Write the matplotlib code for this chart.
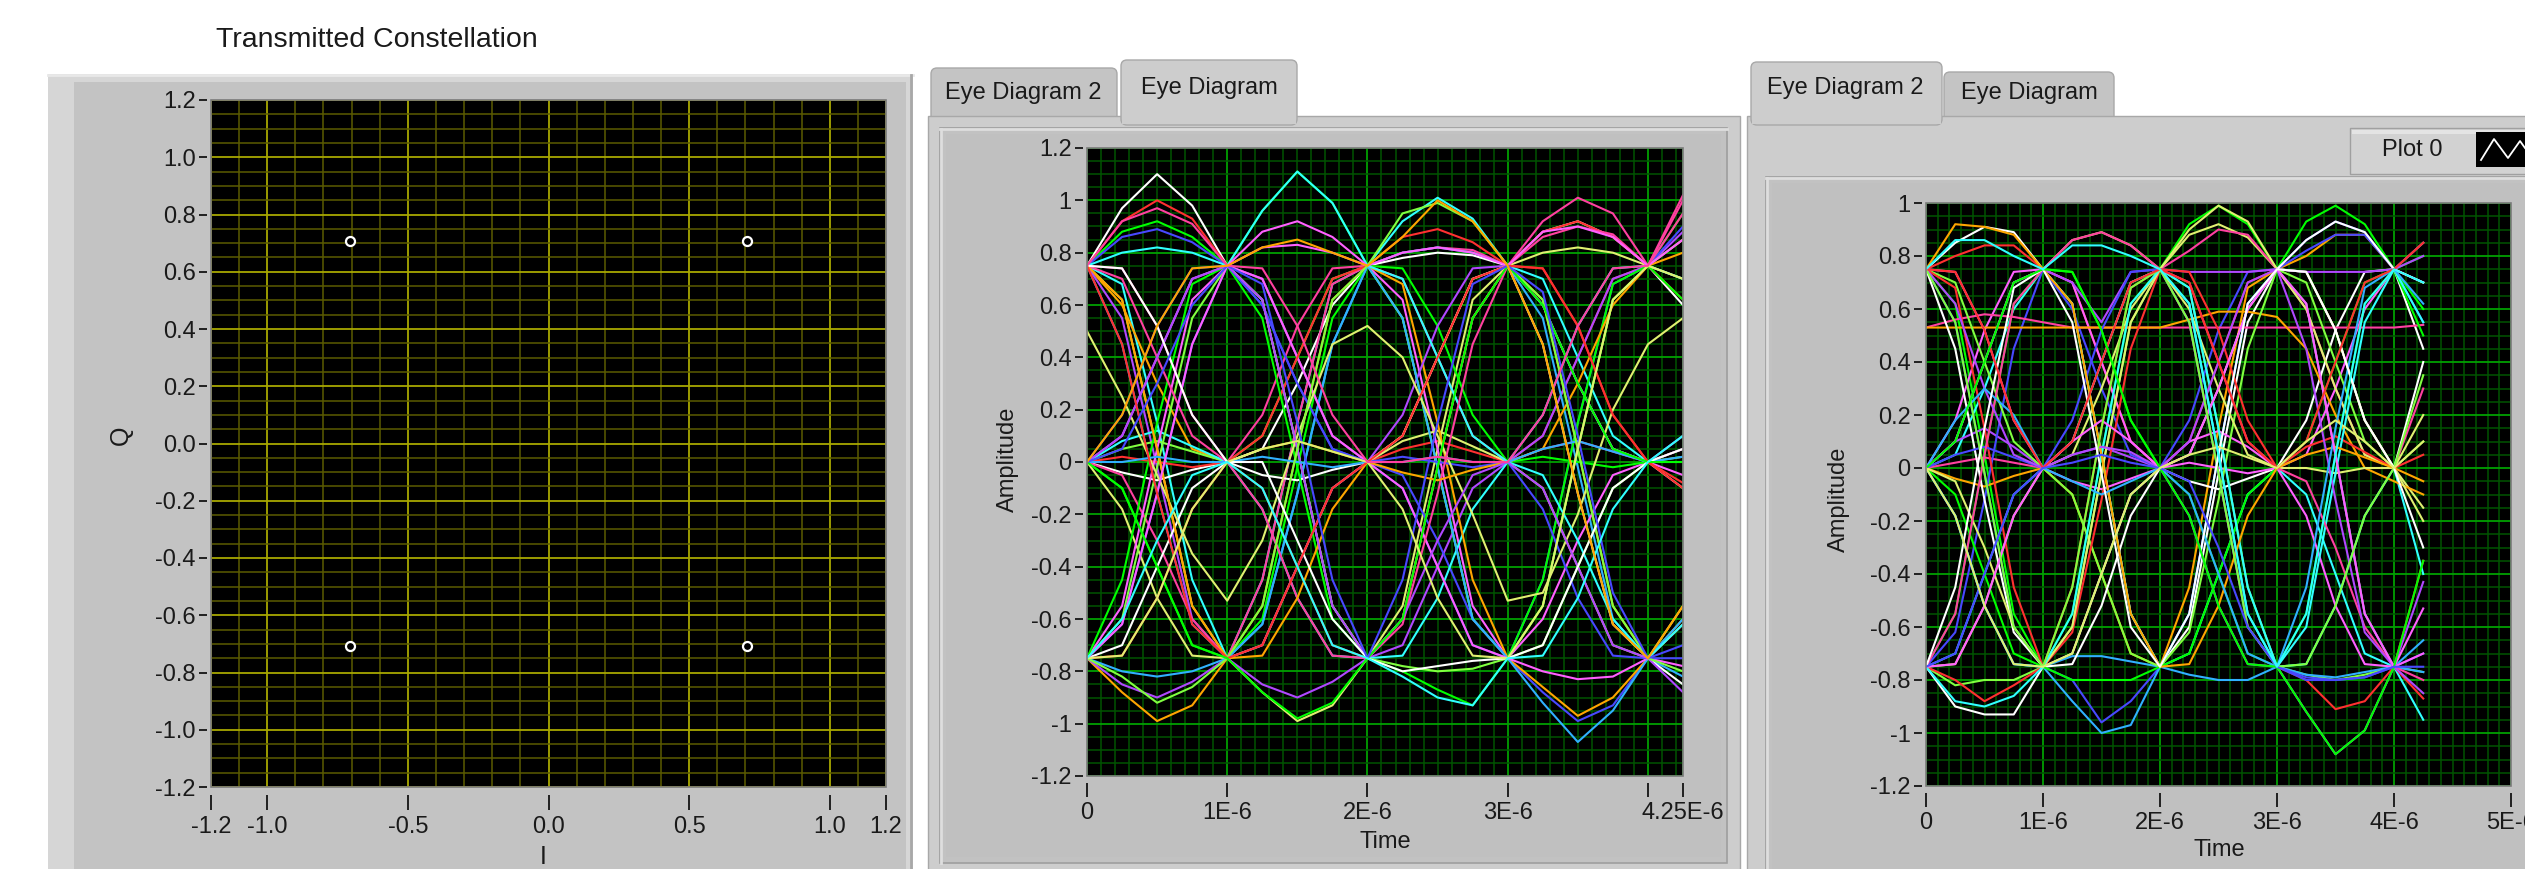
import matplotlib
matplotlib.use('Agg')
import matplotlib.pyplot as plt
from matplotlib.patches import Rectangle, FancyBboxPatch
from matplotlib.lines import Line2D
from matplotlib.ticker import FixedLocator, FuncFormatter
from matplotlib.transforms import IdentityTransform

plt.rcParams['font.family'] = ['Liberation Sans', 'DejaVu Sans']

# ---------------- data ----------------
const_I = [-0.707, 0.707, -0.707, 0.707]
const_Q = [0.707, 0.707, -0.707, -0.707]

time_us = [0.0, 0.25, 0.5, 0.75, 1.0, 1.25, 1.5, 1.75, 2.0, 2.25, 2.5, 2.75,
           3.0, 3.25, 3.5, 3.75, 4.0, 4.25]

eye1_traces = [
    [0.75, 0.97, 1.10, 0.98, 0.75, 0.62, 0.05, -0.55, -0.75, -0.60, -0.02, 0.55, 0.75, 0.88, 0.92, 0.86, 0.75, 0.60],
    [0.75, 0.92, 1.00, 0.93, 0.75, 0.70, 0.40, 0.10, 0.0, 0.05, 0.08, 0.04, 0.0, 0.10, 0.40, 0.70, 0.75, 0.85],
    [0.75, 0.88, 0.92, 0.86, 0.75, 0.96, 1.11, 0.99, 0.75, 0.55, -0.02, -0.60, -0.75, -0.55, 0.05, 0.62, 0.75, 0.95],
    [0.75, 0.86, 0.89, 0.84, 0.75, 0.60, 0.30, 0.05, 0.0, -0.10, -0.40, -0.70, -0.75, -0.88, -0.99, -0.93, -0.75, -0.62],
    [0.75, 0.62, 0.05, -0.55, -0.75, -0.88, -0.99, -0.93, -0.75, -0.55, 0.05, 0.62, 0.75, 0.80, 0.82, 0.80, 0.75, 0.70],
    [0.75, 0.68, 0.15, -0.45, -0.75, -0.45, 0.15, 0.68, 0.75, 0.92, 1.01, 0.93, 0.75, 0.70, 0.40, 0.10, 0.0, 0.05],
    [0.75, 0.74, 0.52, 0.18, 0.0, 0.18, 0.52, 0.74, 0.75, 0.80, 0.82, 0.81, 0.75, 0.92, 1.01, 0.95, 0.75, 1.02],
    [0.75, 0.60, 0.30, 0.05, 0.0, 0.05, 0.08, 0.04, 0.0, 0.10, 0.40, 0.70, 0.75, 0.62, 0.05, -0.55, -0.75, -0.62],
    [0.75, 0.55, -0.02, -0.60, -0.75, -0.85, -0.90, -0.84, -0.75, -0.70, -0.40, -0.10, 0.0, 0.10, 0.40, 0.70, 0.75, 0.88],
    [0.75, 0.45, -0.12, -0.62, -0.75, -0.62, -0.12, 0.45, 0.75, 0.80, 0.82, 0.80, 0.75, 0.55, -0.02, -0.60, -0.75, -0.82],
    [0.0, 0.10, 0.40, 0.70, 0.75, 0.82, 0.83, 0.80, 0.75, 0.62, 0.05, -0.55, -0.75, -0.60, -0.30, -0.05, 0.0, -0.05],
    [0.0, 0.05, 0.08, 0.04, 0.0, 0.10, 0.40, 0.70, 0.75, 0.55, -0.02, -0.60, -0.75, -0.70, -0.40, -0.10, 0.0, 0.02],
    [0.0, -0.04, -0.07, -0.03, 0.0, 0.05, 0.30, 0.60, 0.75, 0.78, 0.80, 0.79, 0.75, 0.60, 0.30, 0.05, 0.0, -0.10],
    [0.0, 0.02, 0.0, -0.02, 0.0, -0.10, -0.40, -0.70, -0.75, -0.60, -0.02, 0.55, 0.75, 0.88, 0.92, 0.86, 0.75, 0.62],
    [0.0, -0.10, -0.40, -0.70, -0.75, -0.60, -0.02, 0.55, 0.75, 0.74, 0.52, 0.18, 0.0, 0.02, 0.0, -0.02, 0.0, 0.0],
    [0.0, 0.18, 0.52, 0.74, 0.75, 0.70, 0.40, 0.10, 0.0, -0.05, -0.30, -0.60, -0.75, -0.45, 0.15, 0.68, 0.75, 0.90],
    [0.0, -0.18, -0.52, -0.74, -0.75, -0.70, -0.40, -0.10, 0.0, 0.08, 0.12, 0.06, 0.0, -0.10, -0.40, -0.70, -0.75, -0.55],
    [0.0, 0.08, 0.12, 0.06, 0.0, -0.18, -0.52, -0.74, -0.75, -0.74, -0.52, -0.18, 0.0, 0.18, 0.52, 0.74, 0.75, 0.70],
    [0.0, -0.05, -0.30, -0.60, -0.75, -0.45, 0.15, 0.68, 0.75, 0.70, 0.40, 0.10, 0.0, 0.05, 0.08, 0.04, 0.0, 0.05],
    [-0.75, -0.88, -0.99, -0.93, -0.75, -0.55, 0.05, 0.62, 0.75, 0.68, 0.15, -0.45, -0.75, -0.86, -0.97, -0.90, -0.75, -0.60],
    [-0.75, -0.85, -0.90, -0.84, -0.75, -0.70, -0.40, -0.10, 0.0, 0.18, 0.52, 0.74, 0.75, 0.60, 0.30, 0.05, 0.0, 0.10],
    [-0.75, -0.80, -0.82, -0.80, -0.75, -0.62, -0.12, 0.45, 0.75, 0.55, -0.02, -0.60, -0.75, -0.92, -1.07, -0.95, -0.75, -0.60],
    [-0.75, -0.55, 0.05, 0.62, 0.75, 0.70, 0.40, 0.10, 0.0, -0.10, -0.40, -0.70, -0.75, -0.80, -0.83, -0.82, -0.75, -0.78],
    [-0.75, -0.60, -0.02, 0.55, 0.75, 0.62, 0.05, -0.55, -0.75, -0.78, -0.80, -0.79, -0.75, -0.55, 0.05, 0.62, 0.75, 0.85],
    [-0.75, -0.70, -0.40, -0.10, 0.0, -0.05, -0.07, -0.03, 0.0, 0.10, 0.40, 0.70, 0.75, 0.45, -0.12, -0.62, -0.75, -0.85],
    [-0.75, -0.74, -0.52, -0.18, 0.0, 0.10, 0.40, 0.70, 0.75, 0.86, 0.89, 0.84, 0.75, 0.74, 0.52, 0.18, 0.0, -0.08],
    [-0.75, -0.45, 0.15, 0.68, 0.75, 0.55, -0.02, -0.60, -0.75, -0.80, -0.87, -0.93, -0.75, -0.45, 0.15, 0.68, 0.75, 0.62],
    [-0.75, -0.62, -0.12, 0.45, 0.75, 0.60, 0.30, 0.05, 0.0, 0.02, 0.0, -0.02, 0.0, -0.18, -0.52, -0.74, -0.75, -0.75],
    [0.50, 0.25, -0.05, -0.35, -0.53, -0.30, 0.10, 0.45, 0.52, 0.40, 0.10, -0.20, -0.53, -0.50, -0.20, 0.20, 0.45, 0.55],
    [0.75, 0.80, 0.82, 0.80, 0.75, 0.96, 1.11, 0.99, 0.75, 0.70, 0.40, 0.10, 0.0, -0.05, -0.30, -0.60, -0.75, -0.62],
    [0.75, 0.70, 0.40, 0.10, 0.0, -0.18, -0.52, -0.74, -0.75, -0.62, -0.12, 0.45, 0.75, 0.86, 0.90, 0.87, 0.75, 0.95],
    [0.75, 0.62, 0.05, -0.55, -0.75, -0.74, -0.52, -0.18, 0.0, -0.04, -0.07, -0.03, 0.0, 0.05, 0.30, 0.60, 0.75, 0.80],
    [0.0, 0.10, 0.40, 0.70, 0.75, 0.62, 0.05, -0.55, -0.75, -0.60, -0.30, -0.05, 0.0, -0.10, -0.40, -0.70, -0.75, -0.88],
    [0.0, 0.0, 0.02, 0.0, 0.0, 0.02, 0.0, -0.02, 0.0, 0.0, 0.02, 0.0, 0.0, 0.05, 0.08, 0.04, 0.0, 0.02],
    [-0.75, -0.62, -0.12, 0.45, 0.75, 0.88, 0.92, 0.86, 0.75, 0.80, 0.82, 0.80, 0.75, 0.88, 0.90, 0.86, 0.75, 0.85],
    [-0.75, -0.82, -0.92, -0.86, -0.75, -0.55, 0.05, 0.62, 0.75, 0.95, 0.99, 0.92, 0.75, 0.62, 0.05, -0.55, -0.75, -0.80],
    [0.75, 0.74, 0.52, 0.18, 0.0, 0.0, -0.30, -0.60, -0.75, -0.80, -0.78, -0.76, -0.75, -0.70, -0.40, -0.10, 0.0, 0.05],
    [0.75, 0.45, -0.12, -0.62, -0.75, -0.70, -0.40, -0.10, 0.0, 0.10, 0.40, 0.70, 0.75, 0.74, 0.52, 0.18, 0.0, -0.10],
    [0.0, -0.10, -0.40, -0.70, -0.75, -0.88, -0.98, -0.92, -0.75, -0.60, -0.02, 0.55, 0.75, 0.60, 0.30, 0.05, 0.0, 0.0],
    [0.0, 0.05, 0.30, 0.60, 0.75, 0.68, 0.15, -0.45, -0.75, -0.45, 0.15, 0.68, 0.75, 0.65, 0.10, -0.50, -0.75, -0.70],
    [-0.75, -0.74, -0.52, -0.18, 0.0, 0.05, 0.08, 0.04, 0.0, -0.18, -0.52, -0.74, -0.75, -0.55, 0.05, 0.62, 0.75, 0.70],
    [-0.75, -0.60, -0.30, -0.05, 0.0, -0.10, -0.40, -0.70, -0.75, -0.82, -0.90, -0.93, -0.75, -0.74, -0.52, -0.18, 0.0, 0.10],
    [0.75, 0.92, 0.97, 0.91, 0.75, 0.74, 0.52, 0.18, 0.0, 0.0, 0.02, 0.0, 0.0, 0.18, 0.52, 0.74, 0.75, 1.0],
    [0.0, 0.18, 0.52, 0.74, 0.75, 0.82, 0.85, 0.80, 0.75, 0.86, 1.0, 0.92, 0.75, 0.45, -0.12, -0.62, -0.75, -0.55],
]

eye2_traces = [
    [0.75, 0.85, 0.91, 0.89, 0.75, 0.62, 0.05, -0.55, -0.75, -0.60, -0.02, 0.55, 0.75, 0.74, 0.52, 0.18, 0.0, 0.40],
    [0.75, 0.80, 0.84, 0.84, 0.75, 0.70, 0.40, 0.10, 0.0, 0.10, 0.40, 0.70, 0.75, 0.62, 0.05, -0.55, -0.75, -0.35],
    [0.75, 0.62, 0.05, -0.55, -0.75, -0.55, 0.05, 0.62, 0.75, 0.92, 0.99, 0.92, 0.75, 0.93, 0.99, 0.92, 0.75, 0.80],
    [0.75, 0.55, -0.02, -0.60, -0.75, -0.80, -0.96, -0.88, -0.75, -0.55, 0.05, 0.62, 0.75, 0.86, 0.93, 0.89, 0.75, 0.55],
    [0.0, 0.10, 0.40, 0.70, 0.75, 0.86, 0.89, 0.84, 0.75, 0.88, 0.92, 0.87, 0.75, 0.74, 0.52, 0.18, 0.0, -0.15],
    [0.0, 0.05, 0.30, 0.60, 0.75, 0.62, 0.05, -0.55, -0.75, -0.70, -0.40, -0.10, 0.0, -0.10, -0.40, -0.70, -0.75, -0.95],
    [0.0, 0.02, 0.04, 0.02, 0.0, 0.10, 0.40, 0.70, 0.75, 0.82, 0.90, 0.88, 0.75, 0.60, 0.30, 0.05, 0.0, 0.30],
    [0.0, -0.04, -0.07, -0.03, 0.0, -0.10, -0.40, -0.70, -0.75, -0.45, 0.15, 0.68, 0.75, 0.80, 0.88, 0.88, 0.75, 0.85],
    [0.0, 0.10, 0.15, 0.08, 0.0, 0.05, 0.08, 0.04, 0.0, -0.18, -0.52, -0.74, -0.75, -0.92, -1.08, -0.99, -0.75, -0.43],
    [0.0, -0.18, -0.52, -0.74, -0.75, -0.88, -1.00, -0.97, -0.75, -0.55, 0.05, 0.62, 0.75, 0.62, 0.05, -0.55, -0.75, -0.65],
    [0.0, 0.18, 0.52, 0.74, 0.75, 0.70, 0.40, 0.10, 0.0, 0.10, 0.14, 0.08, 0.0, 0.05, 0.30, 0.60, 0.75, 0.70],
    [-0.75, -0.82, -0.80, -0.80, -0.75, -0.60, -0.02, 0.55, 0.75, 0.68, 0.15, -0.45, -0.75, -0.78, -0.80, -0.78, -0.75, -0.77],
    [-0.75, -0.90, -0.93, -0.93, -0.75, -0.70, -0.40, -0.10, 0.0, -0.05, -0.08, -0.04, 0.0, 0.18, 0.52, 0.74, 0.75, 0.45],
    [-0.75, -0.80, -0.88, -0.82, -0.75, -0.45, 0.15, 0.68, 0.75, 0.55, -0.02, -0.60, -0.75, -0.80, -0.91, -0.88, -0.75, -0.87],
    [-0.75, -0.55, 0.05, 0.62, 0.75, 0.74, 0.52, 0.18, 0.0, -0.10, -0.40, -0.70, -0.75, -0.55, 0.05, 0.62, 0.75, 0.60],
    [-0.75, -0.62, -0.12, 0.45, 0.75, 0.60, 0.30, 0.05, 0.0, 0.18, 0.52, 0.74, 0.75, 0.82, 0.88, 0.88, 0.75, 0.85],
    [-0.75, -0.74, -0.52, -0.18, 0.0, 0.05, 0.30, 0.60, 0.75, 0.90, 0.99, 0.93, 0.75, 0.60, 0.30, 0.05, 0.0, 0.20],
    [-0.75, -0.70, -0.40, -0.10, 0.0, 0.10, 0.40, 0.70, 0.75, 0.62, 0.05, -0.55, -0.75, -0.74, -0.52, -0.18, 0.0, -0.40],
    [0.53, 0.56, 0.58, 0.57, 0.55, 0.53, 0.53, 0.53, 0.53, 0.53, 0.53, 0.53, 0.53, 0.53, 0.53, 0.53, 0.53, 0.54],
    [0.53, 0.53, 0.53, 0.53, 0.53, 0.53, 0.53, 0.53, 0.53, 0.56, 0.59, 0.59, 0.57, 0.45, 0.20, 0.0, -0.05, -0.10],
    [0.0, 0.10, 0.40, 0.70, 0.75, 0.70, 0.55, 0.74, 0.75, 0.74, 0.74, 0.74, 0.75, 0.74, 0.74, 0.74, 0.75, 0.80],
    [0.0, -0.18, -0.52, -0.74, -0.75, -0.71, -0.71, -0.73, -0.75, -0.78, -0.80, -0.80, -0.75, -0.78, -0.79, -0.77, -0.75, -0.77],
    [0.75, 0.74, 0.52, 0.18, 0.0, -0.05, -0.08, -0.04, 0.0, 0.02, 0.0, -0.02, 0.0, -0.18, -0.52, -0.74, -0.75, -0.53],
    [0.75, 0.70, 0.40, 0.10, 0.0, -0.10, -0.40, -0.70, -0.75, -0.62, -0.12, 0.45, 0.75, 0.70, 0.40, 0.10, 0.0, 0.10],
    [0.75, 0.45, -0.12, -0.62, -0.75, -0.74, -0.52, -0.18, 0.0, 0.05, 0.30, 0.60, 0.75, 0.86, 0.93, 0.89, 0.75, 0.70],
    [0.75, 0.68, 0.15, -0.45, -0.75, -0.62, -0.12, 0.45, 0.75, 0.74, 0.52, 0.18, 0.0, 0.08, 0.12, 0.06, 0.0, 0.05],
    [0.0, -0.10, -0.40, -0.70, -0.75, -0.80, -0.80, -0.80, -0.75, -0.70, -0.40, -0.10, 0.0, 0.10, 0.40, 0.70, 0.75, 0.50],
    [0.0, 0.05, 0.08, 0.04, 0.0, 0.18, 0.52, 0.74, 0.75, 0.55, -0.02, -0.60, -0.75, -0.79, -0.80, -0.79, -0.75, -0.70],
    [0.0, -0.05, -0.30, -0.60, -0.75, -0.60, -0.02, 0.55, 0.75, 0.60, 0.30, 0.05, 0.0, 0.0, -0.02, 0.0, 0.0, -0.20],
    [-0.75, -0.88, -0.90, -0.86, -0.75, -0.55, 0.05, 0.62, 0.75, 0.68, 0.15, -0.45, -0.75, -0.60, -0.02, 0.55, 0.75, 0.55],
    [-0.75, -0.55, 0.05, 0.62, 0.75, 0.86, 0.89, 0.84, 0.75, 0.70, 0.40, 0.10, 0.0, -0.05, -0.30, -0.60, -0.75, -0.80],
    [0.75, 0.92, 0.91, 0.88, 0.75, 0.62, 0.05, -0.55, -0.75, -0.74, -0.52, -0.18, 0.0, 0.05, 0.08, 0.04, 0.0, -0.05],
    [0.75, 0.62, 0.30, 0.05, 0.0, 0.05, 0.08, 0.06, 0.0, 0.10, 0.40, 0.70, 0.75, 0.45, -0.12, -0.62, -0.75, -0.85],
    [0.0, 0.18, 0.30, 0.20, 0.0, -0.05, -0.10, -0.05, 0.0, -0.10, -0.40, -0.70, -0.75, -0.45, 0.15, 0.68, 0.75, 0.62],
    [-0.75, -0.74, -0.52, -0.18, 0.0, 0.10, 0.18, 0.10, 0.0, 0.05, 0.30, 0.60, 0.75, 0.62, 0.05, -0.55, -0.75, -0.70],
    [0.75, 0.55, -0.02, -0.60, -0.75, -0.45, 0.15, 0.68, 0.75, 0.55, -0.02, -0.60, -0.75, -0.74, -0.52, -0.18, 0.0, 0.35],
    [-0.75, -0.45, 0.15, 0.68, 0.75, 0.55, -0.02, -0.60, -0.75, -0.55, 0.05, 0.62, 0.75, 0.74, 0.52, 0.18, 0.0, -0.30],
    [0.75, 0.74, 0.52, 0.18, 0.0, 0.10, 0.40, 0.70, 0.75, 0.70, 0.40, 0.10, 0.0, 0.10, 0.40, 0.70, 0.75, 0.85],
    [0.0, 0.10, 0.40, 0.70, 0.75, 0.74, 0.52, 0.18, 0.0, -0.18, -0.52, -0.74, -0.75, -0.92, -1.08, -0.99, -0.75, -0.35],
    [-0.75, -0.70, -0.40, -0.10, 0.0, 0.02, 0.05, 0.02, 0.0, -0.05, -0.30, -0.60, -0.75, -0.80, -0.80, -0.79, -0.75, -0.75],
    [0.0, -0.18, -0.52, -0.74, -0.75, -0.70, -0.40, -0.10, 0.0, 0.05, 0.08, 0.04, 0.0, 0.10, 0.18, 0.10, 0.0, 0.10],
    [0.75, 0.86, 0.86, 0.80, 0.75, 0.84, 0.84, 0.80, 0.75, 0.62, 0.05, -0.55, -0.75, -0.55, 0.05, 0.62, 0.75, 0.70],
]

trace_colors = ['#ffffff', '#ff3030', '#00ff00', '#4848ff', '#e0f070', '#30ffff',
                '#ff40a0', '#ffa500', '#b048ff', '#30b0ff', '#ff60ff', '#80ff40']

const_xticks = [-1.2, -1.0, -0.5, 0.0, 0.5, 1.0, 1.2]
const_xtick_labels = ['-1.2', '-1.0', '-0.5', '0.0', '0.5', '1.0', '1.2']
const_yticks = [-1.2, -1.0, -0.8, -0.6, -0.4, -0.2, 0.0, 0.2, 0.4, 0.6, 0.8, 1.0, 1.2]

eye1_xticks_us = [0, 1, 2, 3, 4, 4.25]
eye1_xtick_labels = ['0', '1E-6', '2E-6', '3E-6', '', '4.25E-6']
eye2_xticks_us = [0, 1, 2, 3, 4, 5]
eye2_xtick_labels = ['0', '1E-6', '2E-6', '3E-6', '4E-6', '5E-6']
eye1_yticks = [-1.2, -1.0, -0.8, -0.6, -0.4, -0.2, 0.0, 0.2, 0.4, 0.6, 0.8, 1.0, 1.2]
eye2_yticks = [-1.2, -1.0, -0.8, -0.6, -0.4, -0.2, 0.0, 0.2, 0.4, 0.6, 0.8, 1.0]

# ---------------- figure ----------------
W, H = 2525, 869
fig = plt.figure(figsize=(W / 100, H / 100), dpi=100)
fig.patch.set_facecolor('white')
ID = IdentityTransform()
FS = 17
TXT = '#1a1a1a'


def rect(x0, y0, x1, y1, fc, ec='none', lw=0, z=0, rnd=0):
    if rnd:
        p = FancyBboxPatch((x0, H - y1), x1 - x0, y1 - y0,
                           boxstyle=f"round,pad=0,rounding_size={rnd}",
                           fc=fc, ec=ec, lw=lw, transform=ID, zorder=z)
    else:
        p = Rectangle((x0, H - y1), x1 - x0, y1 - y0, fc=fc, ec=ec, lw=lw,
                      transform=ID, zorder=z)
    fig.add_artist(p)


def hline(x0, x1, y, c, lw=1.5, z=1):
    fig.add_artist(Line2D([x0, x1], [H - y, H - y], color=c, lw=lw, transform=ID, zorder=z))


def vline(x, y0, y1, c, lw=1.5, z=1):
    fig.add_artist(Line2D([x, x], [H - y0, H - y1], color=c, lw=lw, transform=ID, zorder=z))


def text(x, y, s, **kw):
    kw.setdefault('fontsize', FS)
    kw.setdefault('color', TXT)
    fig.text(x / W, 1 - y / H, s, **kw)


# Constellation panel
rect(48, 74, 913, 880, '#d6d6d6')
rect(74, 82, 906, 880, '#c3c3c3')
hline(48, 913, 75, '#e8e8e8', 2)
vline(911, 75, 869, '#a8a8a8', 2)

# Eye Diagram (left tab control)
rect(931, 68, 1117, 130, '#c4c4c4', ec='#a8a8a8', lw=1, rnd=6)
rect(928, 116, 1740, 880, '#cdcdcd', ec='#a8a8a8', lw=1)
rect(1121, 60, 1297, 125, '#cdcdcd', ec='#a8a8a8', lw=1, rnd=6)
rect(1122, 112, 1296, 124, '#cdcdcd')
rect(940, 128, 1727, 863, '#c2c2c2', ec='#9e9e9e', lw=1.2)
rect(946, 134, 1721, 857, '#c0c0c0')
hline(940, 1727, 129, '#dedede', 2)
vline(941, 129, 863, '#dedede', 2)

# Eye Diagram 2 (right tab control)
rect(1944, 72, 2114, 130, '#c4c4c4', ec='#a8a8a8', lw=1, rnd=6)
rect(1747, 116, 2540, 880, '#cdcdcd', ec='#a8a8a8', lw=1)
rect(1751, 62, 1942, 125, '#cdcdcd', ec='#a8a8a8', lw=1, rnd=6)
rect(1752, 112, 1941, 124, '#cdcdcd')
rect(1766, 177, 2540, 880, '#c2c2c2', ec='#9e9e9e', lw=1.2)
rect(1772, 183, 2540, 880, '#c0c0c0')
hline(1766, 2525, 178, '#dedede', 2)
vline(1767, 178, 869, '#dedede', 2)
# legend box
rect(2350, 128, 2540, 174, '#d2d2d2', ec='#a0a0a0', lw=1)
rect(2352, 130, 2540, 134, '#e4e4e4')
rect(2476, 132, 2540, 167, 'black')
fig.add_artist(Line2D([2481, 2494, 2508, 2520, 2525], [H - 160, H - 139, H - 158, H - 141, H - 148],
                      color='white', lw=1.3, transform=ID, zorder=3))

# Texts
text(216, 40, 'Transmitted Constellation', ha='left', va='center', fontsize=20.5)
text(1023, 93, 'Eye Diagram 2', ha='center', va='center')
text(1209, 88, 'Eye Diagram', ha='center', va='center')
text(1845, 88, 'Eye Diagram 2', ha='center', va='center')
text(2029, 93, 'Eye Diagram', ha='center', va='center')
text(2412, 150, 'Plot 0', ha='center', va='center')
text(121, 435, 'Q', ha='center', va='center', rotation=90, fontsize=18)
text(543, 845, 'I', ha='center', va='top', fontsize=18)
text(1008, 459, 'Amplitude', ha='center', va='center', rotation=90)
text(1385, 842, 'Time', ha='center', va='center')
text(1839, 499, 'Amplitude', ha='center', va='center', rotation=90)
text(2219, 850, 'Time', ha='center', va='center')


def style(ax, major_c, minor_c, xoff, yoff, xlen, ylen):
    ax.set_facecolor('black')
    for s in ['top', 'right']:
        ax.spines[s].set_visible(False)
    ax.spines['left'].set_position(('outward', yoff))
    ax.spines['bottom'].set_position(('outward', xoff))
    ax.spines['left'].set_visible(False)
    ax.spines['bottom'].set_visible(False)
    ax.set_axisbelow(True)
    ax.grid(which='major', color=major_c, lw=1.3)
    ax.grid(which='minor', color=minor_c, lw=1.1)
    ax.tick_params(which='major', axis='x', direction='out', length=xlen, width=1.4,
                   color='#202020', labelsize=FS, labelcolor=TXT, pad=4)
    ax.tick_params(which='major', axis='y', direction='out', length=ylen, width=1.4,
                   color='#202020', labelsize=FS, labelcolor=TXT, pad=2)
    ax.tick_params(which='minor', length=0)
    fr = Rectangle((0, 0), 1, 1, transform=ax.transAxes, fill=False, ec='#7a7a7a', lw=1.2,
                   zorder=5, clip_on=False)
    ax.add_patch(fr)


# Constellation axes
ax1 = fig.add_axes([211 / W, 1 - 787 / H, 675 / W, 687 / H])
ax1.set_xlim(-1.2, 1.2)
ax1.set_ylim(-1.2, 1.2)
ax1.xaxis.set_major_locator(FixedLocator(const_xticks))
ax1.set_xticklabels(const_xtick_labels)
ax1.xaxis.set_minor_locator(FixedLocator([round(-1.2 + 0.1 * k, 2) for k in range(25)]))
ax1.yaxis.set_major_locator(FixedLocator(const_yticks))
ax1.yaxis.set_major_formatter(FuncFormatter(lambda v, p: f'{v:.1f}'.replace('-0.0', '0.0')))
ax1.yaxis.set_minor_locator(FixedLocator([round(-1.2 + 0.05 * k, 3) for k in range(49)]))
style(ax1, '#a8a800', '#5c5c00', 6, 3, 11, 6)
ax1.plot(const_I, const_Q, linestyle='none', marker='o', ms=6.5, mfc='black',
         mec='white', mew=1.6, zorder=4)

t_sec = [v * 1e-6 for v in time_us]


def eye_axes(rect_px, traces, xticks_us, xlabels, yticks, ylim, xmax_us):
    x0, y0, x1, y1 = rect_px
    ax = fig.add_axes([x0 / W, 1 - y1 / H, (x1 - x0) / W, (y1 - y0) / H])
    ax.set_xlim(0, xmax_us * 1e-6)
    ax.set_ylim(*ylim)
    ax.xaxis.set_major_locator(FixedLocator([v * 1e-6 for v in xticks_us]))
    ax.set_xticklabels(xlabels)
    ax.xaxis.set_minor_locator(FixedLocator([k * 0.1e-6 for k in range(int(xmax_us * 10) + 1)]))
    ax.yaxis.set_major_locator(FixedLocator(yticks))
    ax.yaxis.set_major_formatter(FuncFormatter(lambda v, p: f'{round(v, 2):g}' if abs(v) > 1e-9 else '0'))
    ax.yaxis.set_minor_locator(FixedLocator([round(ylim[0] + 0.05 * k, 3)
                                             for k in range(int(round((ylim[1] - ylim[0]) / 0.05)) + 1)]))
    style(ax, '#00a000', '#005400', 5, 3, 10, 6)
    for i, tr in enumerate(traces):
        ax.plot(t_sec, tr, color=trace_colors[i % len(trace_colors)], lw=1.5, zorder=3)
    return ax


ax2 = eye_axes((1087, 148, 1683, 776), eye1_traces, eye1_xticks_us, eye1_xtick_labels,
               eye1_yticks, (-1.2, 1.2), 4.25)
ax3 = eye_axes((1926, 203, 2511, 786), eye2_traces, eye2_xticks_us, eye2_xtick_labels,
               eye2_yticks, (-1.2, 1.0), 5.0)

fig.savefig('out.png', dpi=100, facecolor='white')
